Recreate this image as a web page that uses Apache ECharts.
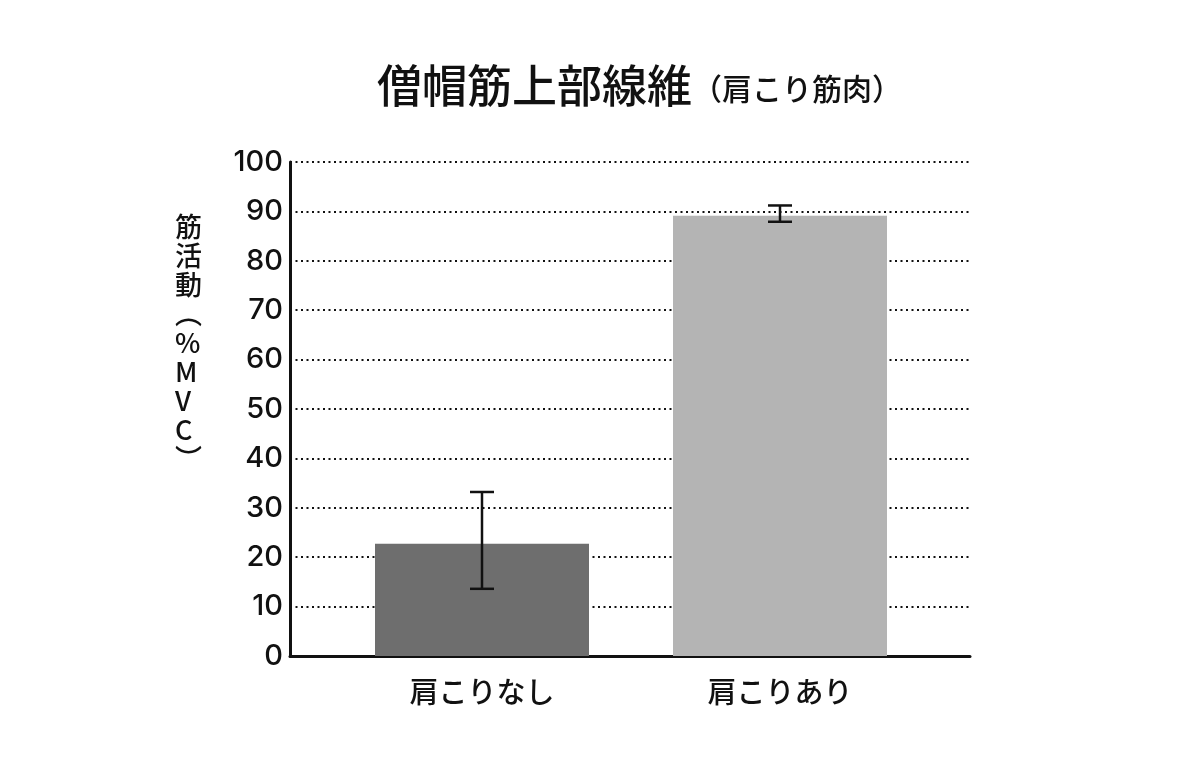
<!DOCTYPE html>
<html><head><meta charset="utf-8">
<script src="https://cdn.jsdelivr.net/npm/echarts@6/dist/echarts.min.js"></script>
<style>html,body{margin:0;padding:0;background:#fff}#c{width:1200px;height:782px}</style>
</head><body><div id="c"></div>
<script>
const categories = ['肩こりなし', '肩こりあり'];
const meanValues = [22.7, 89.1];
const errLow = [13.6, 87.9];
const errHigh = [33.2, 91.2];
const yTicks = [0, 10, 20, 30, 40, 50, 60, 70, 80, 90, 100];
const titleMain = '僧帽筋上部線維';
const titleSub = '（肩こり筋肉）';
const yName = ['筋', '活', '動', '︵', '%', 'M', 'V', 'C', '︶'];

const barColors = ['#6e6e6e', '#b4b4b4'];
const FONT = '"Noto Sans CJK JP", "Noto Sans", sans-serif';

const chart = echarts.init(document.getElementById('c'));
chart.setOption({
  backgroundColor: '#fff',
  animation: false,
  title: {
    text: '{a|' + titleMain + '}{b|' + titleSub + '}',
    left: 372, top: 58,
    textStyle: {
      rich: {
        a: { fontSize: 45, fontWeight: 500, color: '#111', fontFamily: FONT },
        b: { fontSize: 30, fontWeight: 500, color: '#111', fontFamily: FONT, padding: [6, 0, 0, 0] }
      }
    }
  },
  graphic: [{
    type: 'text',
    left: 175, top: 212,
    style: {
      text: yName.join('\n'),
      fontSize: 27, lineHeight: 29, fontWeight: 500,
      fill: '#111', fontFamily: FONT, align: 'center'
    }
  }],
  grid: [
    { left: 290, right: 230, top: 162, bottom: 126 },
    { left: 333, right: 271, top: 162, bottom: 126 }
  ],
  xAxis: [
    { type: 'category', gridIndex: 0, data: [''],
      axisLine: { show: true, lineStyle: { color: '#111', width: 3 } },
      axisTick: { show: false }, axisLabel: { show: false }, splitLine: { show: false } },
    { type: 'category', gridIndex: 1, data: categories,
      axisLine: { show: false }, axisTick: { show: false },
      axisLabel: { color: '#111', fontSize: 29, fontWeight: 500, fontFamily: FONT, margin: 21 } }
  ],
  yAxis: [
    { type: 'value', gridIndex: 0, min: 0, max: 100, interval: 10,
      axisLine: { show: true, lineStyle: { color: '#111', width: 3 } },
      axisTick: { show: false },
      axisLabel: { color: '#111', fontSize: 29, fontWeight: 500, fontFamily: 'Inter, "Noto Sans", sans-serif', margin: 7,
        formatter: v => yTicks.includes(v) ? String(v) : '' },
      splitLine: { show: true, lineStyle: { color: '#111', type: [2, 3.5], width: 2 } } },
    { type: 'value', gridIndex: 1, min: 0, max: 100, interval: 10, show: false,
      splitLine: { show: false } }
  ],
  series: [
    {
      type: 'bar', xAxisIndex: 1, yAxisIndex: 1,
      data: meanValues, barWidth: 214,
      itemStyle: { color: p => barColors[p.dataIndex] },
      z: 3
    },
    {
      type: 'custom', xAxisIndex: 1, yAxisIndex: 1, z: 5,
      data: categories.map((c, i) => [i, errLow[i], errHigh[i]]),
      renderItem: function (params, api) {
        const x = api.value(0);
        const lo = api.coord([x, api.value(1)]);
        const hi = api.coord([x, api.value(2)]);
        const hw = 12;
        const st = { stroke: '#111', lineWidth: 2.5 };
        return { type: 'group', children: [
          { type: 'line', shape: { x1: lo[0], y1: lo[1], x2: hi[0], y2: hi[1] }, style: st },
          { type: 'line', shape: { x1: lo[0] - hw, y1: lo[1], x2: lo[0] + hw, y2: lo[1] }, style: st },
          { type: 'line', shape: { x1: hi[0] - hw, y1: hi[1], x2: hi[0] + hw, y2: hi[1] }, style: st }
        ] };
      }
    }
  ]
});
</script></body></html>
